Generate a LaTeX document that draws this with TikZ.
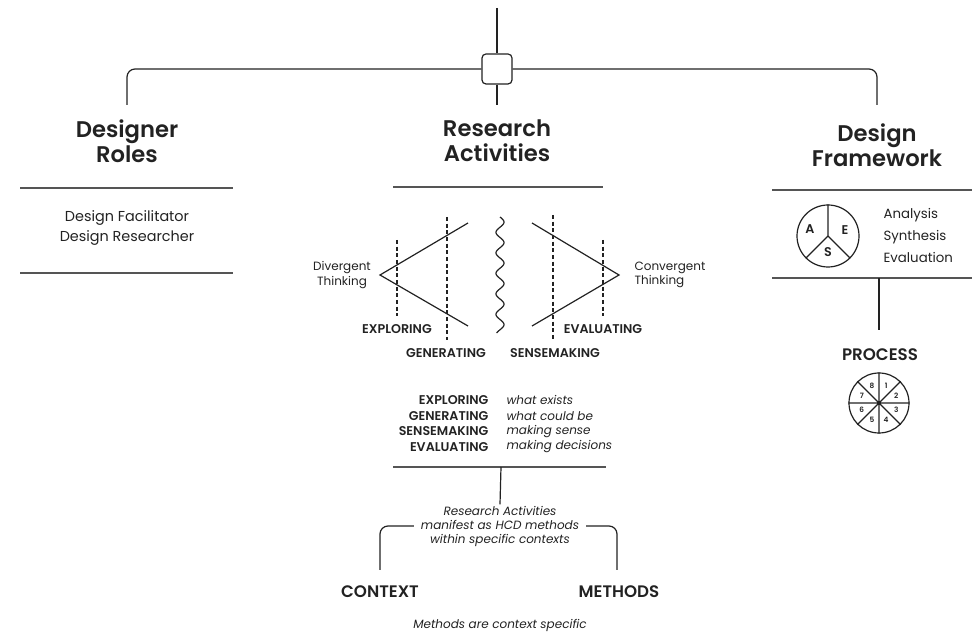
\documentclass[tikz,border=0pt]{standalone}
\usepackage{fontspec}
\setmainfont{Poppins}[BoldFont={Poppins SemiBold}]
\usetikzlibrary{calc}
\definecolor{ink}{HTML}{222222}
\definecolor{rulegray}{HTML}{555555}
\begin{document}
\begin{tikzpicture}[x=0.75pt,y=-0.75pt,
  every node/.style={text=ink, inner sep=1pt},
  conn/.style={draw=ink, line width=0.9pt},
  rulebar/.style={draw=rulegray, line width=0.8pt},
  guide/.style={draw=ink, line width=0.9pt, dash pattern=on 3pt off 2pt},
  heading/.style={font=\fontsize{17}{19}\selectfont\bfseries, align=center},
  body/.style={font=\fontsize{10.8}{15}\selectfont, align=center},
  caps/.style={font=\fontsize{9.5}{11}\selectfont\bfseries},
  bigcaps/.style={font=\fontsize{12.5}{13}\selectfont\bfseries},
  note/.style={font=\fontsize{9}{10.5}\selectfont\itshape, align=center},
  sector/.style={font=\fontsize{9.5}{9.5}\selectfont\bfseries, inner sep=0pt},
  smallnum/.style={font=\fontsize{5.5}{6}\selectfont\bfseries, inner sep=0pt},
]
\useasboundingbox (0,0) rectangle (972,634);

% ---- hub and top branch ----
\coordinate (top) at (497,8);
\node[draw=ink, line width=0.9pt, rounded corners=3pt, minimum size=22.5pt, inner sep=0pt] (hub) at (497,69) {};
\draw[conn] (top) -- (hub.north);
\coordinate (dropL) at (127,105);
\coordinate (dropC) at (497,105);
\coordinate (dropR) at (877,105);
\draw[conn, rounded corners=6pt] (hub.west) -| (dropL);
\draw[conn, rounded corners=6pt] (hub.east) -| (dropR);
\draw[conn] (hub.south) -- (dropC);

% ---- headings ----
\node[heading] (roles) at (127,141) {Designer\\Roles};
\node[heading] (activities) at (497,141) {Research\\Activities};
\node[heading] (framework) at (877,145) {Design\\Framework};

% ---- designer roles column ----
\draw[rulebar] (20,188) -- (233,188);
\node[body] (rolelist) at (127,228) {Design Facilitator\\Design Researcher};
\draw[rulebar] (20,273) -- (233,273);

% ---- research activities column ----
\draw[rulebar] (393,187) -- (603,187);
\draw[conn] (468,223) -- (380,275) -- (468,326);
\draw[conn] (532,223) -- (619,275) -- (532,326);
\draw[guide] (397,240) -- (397,316);
\draw[guide] (447,217) -- (447,340);
\draw[guide] (553,215) -- (553,340);
\draw[guide] (603,240) -- (603,316);
\draw[conn] plot[domain=0:116, samples=200, smooth] ({500+4*sin((\x/20.5)*360)},{217+\x});

\node[body, font=\fontsize{9}{11}\selectfont] (divergent) at (342,275) {Divergent\\Thinking};
\node[body, font=\fontsize{9}{11}\selectfont, align=left, anchor=west] (convergent) at (633,275) {Convergent\\Thinking};
\node[caps] (lexp) at (397,329) {EXPLORING};
\node[caps] (leva) at (603,329) {EVALUATING};
\node[caps] (lgen) at (446,353) {GENERATING};
\node[caps] (lsen) at (555,353) {SENSEMAKING};

% legend rows
\node[caps, anchor=east] (k1) at (490,400) {EXPLORING};
\node[caps, anchor=east] (k2) at (490,415.7) {GENERATING};
\node[caps, anchor=east] (k3) at (490,431.3) {SENSEMAKING};
\node[caps, anchor=east] (k4) at (490,447) {EVALUATING};
\node[note, anchor=west] (v1) at (505,400) {what exists};
\node[note, anchor=west] (v2) at (505,415.7) {what could be};
\node[note, anchor=west] (v3) at (505,431.3) {making sense};
\node[note, anchor=west] (v4) at (505,447) {making decisions};

\draw[rulebar] (393,467) -- (606,467);
\coordinate (legendfoot) at (501,467);
\node[note] (ranote) at (500,526) {Research Activities\\manifest as HCD methods\\within specific contexts};
\draw[conn] (legendfoot) -- (ranote.north);

\node[bigcaps] (ctx) at (380,592) {CONTEXT};
\node[bigcaps] (mth) at (619,592) {METHODS};
\coordinate (ctxTop) at (380,570);
\coordinate (mthTop) at (617,570);
\draw[conn, rounded corners=6pt] ([xshift=-4pt]ranote.west) -| (ctxTop);
\draw[conn, rounded corners=6pt] ([xshift=4pt]ranote.east) -| (mthTop);
\node[note] (final) at (500,625) {Methods are context specific};

% ---- design framework column ----
\draw[rulebar] (772,190) -- (972,190);
\node[circle, draw=ink, line width=0.9pt, minimum size=46.5pt, inner sep=0pt] (aes) at (828,236) {};
\draw[conn] (aes.center) -- (aes.north) (aes.center) -- (aes.225) (aes.center) -- (aes.315);
\node[sector] (sa) at (810,229) {A};
\node[sector] (se) at (845,230) {E};
\node[sector] (ss) at (828,252) {S};
\node[body, align=left, anchor=west, font=\fontsize{10}{16.5}\selectfont] (aeslist) at (882,235) {Analysis\\Synthesis\\Evaluation};
\draw[rulebar] (772,278) -- (972,278);

\coordinate (procTop) at (879,278);
\coordinate (procEnd) at (879,330);
\draw[conn] (procTop) -- (procEnd);
\node[bigcaps] (process) at (880,355) {PROCESS};
\node[circle, draw=ink, line width=0.9pt, minimum size=45pt, inner sep=0pt] (proc) at (879,403) {};
\draw[conn] (proc.north) -- (proc.south) (proc.east) -- (proc.west)
  (proc.45) -- (proc.225) (proc.135) -- (proc.315);
\foreach \n/\a in {1/67.5, 2/22.5, 3/-22.5, 4/-67.5, 5/-112.5, 6/-157.5, 7/157.5, 8/112.5}
  \node[smallnum] (p\n) at ($(proc.center)+(\a:14pt)$) {\n};
\end{tikzpicture}
\end{document}
